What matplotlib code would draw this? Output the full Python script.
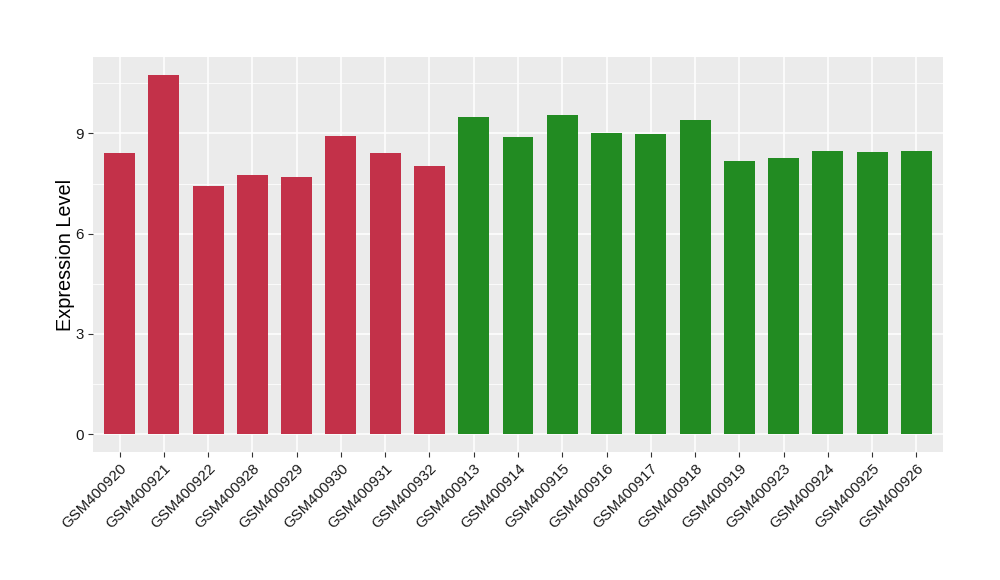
import matplotlib
matplotlib.use("Agg")
import matplotlib.pyplot as plt
from matplotlib.ticker import MultipleLocator

plt.rcParams['font.family'] = ['Liberation Sans', 'DejaVu Sans']

samples = ["GSM400920", "GSM400921", "GSM400922", "GSM400928", "GSM400929",
           "GSM400930", "GSM400931", "GSM400932", "GSM400913", "GSM400914",
           "GSM400915", "GSM400916", "GSM400917", "GSM400918", "GSM400919",
           "GSM400923", "GSM400924", "GSM400925", "GSM400926"]
expression = [8.41, 10.75, 7.42, 7.75, 7.69, 8.92, 8.41, 8.02, 9.49, 8.89,
              9.55, 9.01, 8.98, 9.39, 8.17, 8.26, 8.47, 8.44, 8.47]
groups = ["a"] * 8 + ["b"] * 11
group_colors = {"a": "#C33149", "b": "#228B22"}

fig = plt.figure(figsize=(10, 5.8), dpi=100)
ax = fig.add_axes([0.093, 0.2207, 0.85, 0.681])
ax.set_facecolor("#EBEBEB")

xpos = list(range(1, len(samples) + 1))
ax.bar(xpos, expression, width=0.7, color=[group_colors[g] for g in groups], zorder=3)

ymax = max(expression)
ax.set_xlim(0.4, len(samples) + 0.6)
ax.set_ylim(-0.05 * ymax, ymax * 1.05)

ax.yaxis.set_major_locator(MultipleLocator(3))
ax.yaxis.set_minor_locator(MultipleLocator(1.5))
ax.set_xticks(xpos)
ax.set_xticklabels(samples, rotation=45, ha="right", rotation_mode="anchor")

ax.grid(which="major", color="white", linewidth=1.1, zorder=0)
ax.grid(which="minor", axis="y", color="white", linewidth=0.55, zorder=0)
ax.set_axisbelow(True)

for s in ax.spines.values():
    s.set_visible(False)

ax.tick_params(axis="both", which="major", length=3.5, width=0.8, color="#333333",
               labelsize=10.8, labelcolor="#1A1A1A", pad=3)
ax.tick_params(axis="y", which="minor", length=0)

ax.set_ylabel("Expression Level", fontsize=14.3, labelpad=0)

fig.savefig("out.png", dpi=100)
